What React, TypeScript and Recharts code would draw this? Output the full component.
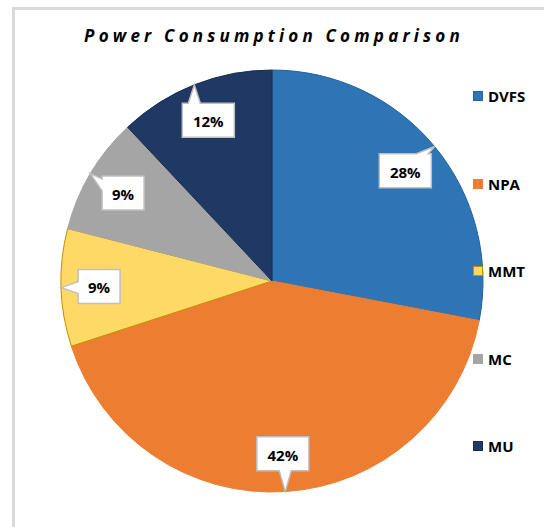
import React from 'react';
import { PieChart, Pie, Cell, Legend } from 'recharts';

const categories = ['DVFS', 'NPA', 'MMT', 'MC', 'MU'];
const values = [28, 42, 9, 9, 12];
const fills = ['#2E75B6', '#ED7D31', '#FFD966', '#A5A5A5', '#203864'];
const strokes = ['#25619A', '#ED7D31', '#BF9000', '#A5A5A5', '#1A2E52'];
const title = 'Power Consumption Comparison';

const data = categories.map((name, i) => ({ name, value: values[i] }));

const RADIAN = Math.PI / 180;
const FONT = '"Open Sans", Lato, "Liberation Sans", sans-serif';

function clamp(v: number, a: number, b: number) {
  return Math.max(a, Math.min(b, v));
}

function calloutPath(x0: number, y0: number, x1: number, y1: number, tx: number, ty: number) {
  const cx = (x0 + x1) / 2;
  const cy = (y0 + y1) / 2;
  const w = x1 - x0;
  const h = y1 - y0;
  const dx = tx - cx;
  const dy = ty - cy;
  const half = 6;
  if (Math.abs(dx) / (w / 2) > Math.abs(dy) / (h / 2)) {
    const bc = clamp(ty, y0 + half + 3, y1 - half - 3);
    if (dx < 0) {
      return `M${x0},${y0} L${x1},${y0} L${x1},${y1} L${x0},${y1} L${x0},${bc + half} L${tx},${ty} L${x0},${bc - half} Z`;
    }
    return `M${x0},${y0} L${x1},${y0} L${x1},${bc - half} L${tx},${ty} L${x1},${bc + half} L${x1},${y1} L${x0},${y1} Z`;
  }
  const bc = clamp(tx, x0 + half + 3, x1 - half - 3);
  if (dy < 0) {
    return `M${x0},${y0} L${bc - half},${y0} L${tx},${ty} L${bc + half},${y0} L${x1},${y0} L${x1},${y1} L${x0},${y1} Z`;
  }
  return `M${x0},${y0} L${x1},${y0} L${x1},${y1} L${bc + half},${y1} L${tx},${ty} L${bc - half},${y1} L${x0},${y1} Z`;
}

const renderLabel = (props: any) => {
  const { cx, cy, midAngle, outerRadius, percent, index } = props;
  const r = outerRadius * 0.82;
  const bx = cx + r * Math.cos(-midAngle * RADIAN);
  const by = cy + r * Math.sin(-midAngle * RADIAN);
  const tx = cx + outerRadius * Math.cos(-midAngle * RADIAN);
  const ty = cy + outerRadius * Math.sin(-midAngle * RADIAN);
  const text = `${Math.round(percent * 100)}%`;
  const w = 22 + 10 * text.length;
  const h = 34;
  const x0 = bx - w / 2;
  const y0 = by - h / 2;
  return (
    <g key={`lbl-${index}`}>
      <path d={calloutPath(x0, y0, x0 + w, y0 + h, tx, ty)} fill="#FFFFFF" stroke="#BFBFBF" strokeWidth={1.5} />
      <text x={bx} y={by + 1} textAnchor="middle" dominantBaseline="central" fontFamily={FONT} fontWeight={700} fontSize={15} fill="#000000">
        {text}
      </text>
    </g>
  );
};

const renderLegend = () => (
  <div style={{ fontFamily: FONT }}>
    {categories.map((c, i) => (
      <div key={c} style={{ height: 87.5, display: 'flex', alignItems: 'flex-start' }}>
        <div style={{ display: 'flex', alignItems: 'center', height: 20 }}>
          <span
            style={{
              display: 'inline-block',
              width: 10,
              height: 10,
              boxSizing: 'border-box',
              background: fills[i],
              border: `1.5px solid ${strokes[i]}`,
              marginRight: 5,
            }}
          />
          <span style={{ fontWeight: 700, fontSize: 15, color: '#000' }}>{c}</span>
        </div>
      </div>
    ))}
  </div>
);

export default function App() {
  return (
    <div style={{ position: 'fixed', left: 0, top: 0, width: 544, height: 527, overflow: 'hidden', background: '#fff' }}>
      <div
        style={{
          position: 'absolute',
          left: 12,
          top: 7,
          width: 700,
          height: 700,
          border: '3px solid #D9D9D9',
        }}
      />
      <div
        style={{
          position: 'absolute',
          left: 0,
          top: 25,
          width: 544,
          textAlign: 'center',
          fontFamily: FONT,
          fontWeight: 700,
          fontStyle: 'italic',
          fontSize: 17,
          letterSpacing: 4.2,
          color: '#000',
          lineHeight: '22px',
          paddingLeft: 4,
          boxSizing: 'border-box',
        }}
      >
        {title}
      </div>
      <div style={{ position: 'absolute', left: 0, top: 0 }}>
        <PieChart width={544} height={527} margin={{ top: 0, right: 0, bottom: 0, left: 0 }}>
          <Pie
            data={data}
            dataKey="value"
            nameKey="name"
            cx={272}
            cy={281}
            outerRadius={211}
            startAngle={90}
            endAngle={-270}
            isAnimationActive={false}
            labelLine={false}
            label={renderLabel}
          >
            {data.map((d, i) => (
              <Cell key={d.name} fill={fills[i]} stroke={strokes[i]} strokeWidth={1} />
            ))}
          </Pie>
          <Legend
            layout="vertical"
            align="right"
            verticalAlign="top"
            content={renderLegend}
            wrapperStyle={{ left: 473, top: 86, width: 70 }}
          />
        </PieChart>
      </div>
    </div>
  );
}
